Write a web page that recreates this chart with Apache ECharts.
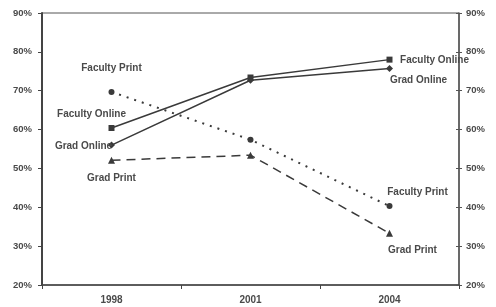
<!DOCTYPE html>
<html><head><meta charset="utf-8">
<script src="https://cdn.jsdelivr.net/npm/echarts@6/dist/echarts.min.js"></script>
<style>html,body{margin:0;padding:0;background:#fff}#c{width:496px;height:307px}</style>
</head><body><div id="c"></div>
<script>
var years = ['1998', '2001', '2004'];
var facultyOnline = [60.4, 73.4, 78.0];
var gradOnline = [56.0, 72.7, 75.7];
var facultyPrint = [69.7, 57.4, 40.3];
var gradPrint = [52.1, 53.4, 33.3];
var seriesNames = ['Faculty Online', 'Grad Online', 'Faculty Print', 'Grad Print'];

var chart = echarts.init(document.getElementById('c'), null, {renderer: 'canvas'});
var txt = '#4a4a4a';
var lineC = '#3a3a3a';
var lblFont = {fontFamily: 'Liberation Sans, Arial', fontWeight: 'bold', fontSize: 10, color: txt};

function mk(vals, name, offsets) {
  return vals.map(function (v, i) {
    var o = offsets[i];
    var item = {value: v};
    if (o) {
      item.label = Object.assign({show: true, position: 'inside', offset: o, formatter: name}, lblFont);
    }
    return item;
  });
}

var pct = function (v) { return v + '%'; };
var yLab = {formatter: pct, fontFamily: 'Liberation Sans, Arial', fontWeight: 'bold', fontSize: 9.5, color: txt};

chart.setOption({
  animation: false,
  grid: {left: 42, right: 37, top: 13, bottom: 22, show: true, borderColor: '#555', borderWidth: 1},
  xAxis: {
    type: 'category', data: years, boundaryGap: true,
    axisLine: {lineStyle: {color: '#444', width: 1.5}},
    axisTick: {show: true, length: 4, lineStyle: {color: '#444'}},
    axisLabel: {fontFamily: 'Liberation Sans, Arial', fontWeight: 'bold', fontSize: 10, color: txt, margin: 10}
  },
  yAxis: [
    {type: 'value', min: 20, max: 90, interval: 10, position: 'left',
     axisLine: {show: true, lineStyle: {color: '#444', width: 2}},
     axisTick: {show: true, length: 4, lineStyle: {color: '#444'}},
     splitLine: {show: false}, axisLabel: Object.assign({margin: 10}, yLab)},
    {type: 'value', min: 20, max: 90, interval: 10, position: 'right',
     axisLine: {show: true, lineStyle: {color: '#555', width: 1.5}},
     axisTick: {show: true, length: 3, lineStyle: {color: '#555'}},
     splitLine: {show: false}, axisLabel: Object.assign({margin: 7}, yLab)},
    {type: 'value', min: 20, max: 90, interval: 10, position: 'right',
     axisLine: {show: false},
     axisTick: {show: true, inside: true, length: 3, lineStyle: {color: '#555'}},
     splitLine: {show: false}, axisLabel: {show: false}}
  ],
  series: [
    {name: seriesNames[0], type: 'line', data: mk(facultyOnline, seriesNames[0], [[-20, -14], null, [45, 1]]),
     symbol: 'rect', symbolSize: 6, itemStyle: {color: lineC}, lineStyle: {color: lineC, width: 1.5}},
    {name: seriesNames[1], type: 'line', data: mk(gradOnline, seriesNames[1], [[-28, 1], null, [29, 12]]),
     symbol: 'diamond', symbolSize: 7, itemStyle: {color: lineC}, lineStyle: {color: lineC, width: 1.5}},
    {name: seriesNames[2], type: 'line', data: mk(facultyPrint, seriesNames[2], [[0, -24], null, [28, -14]]),
     symbol: 'circle', symbolSize: 6, itemStyle: {color: lineC}, lineStyle: {color: lineC, width: 2, type: [2, 6]}},
    {name: seriesNames[3], type: 'line', data: mk(gradPrint, seriesNames[3], [[0, 18], null, [23, 17]]),
     symbol: 'triangle', symbolSize: 7, itemStyle: {color: lineC}, lineStyle: {color: lineC, width: 1.5, type: [9, 6]}}
  ]
});
</script></body></html>
